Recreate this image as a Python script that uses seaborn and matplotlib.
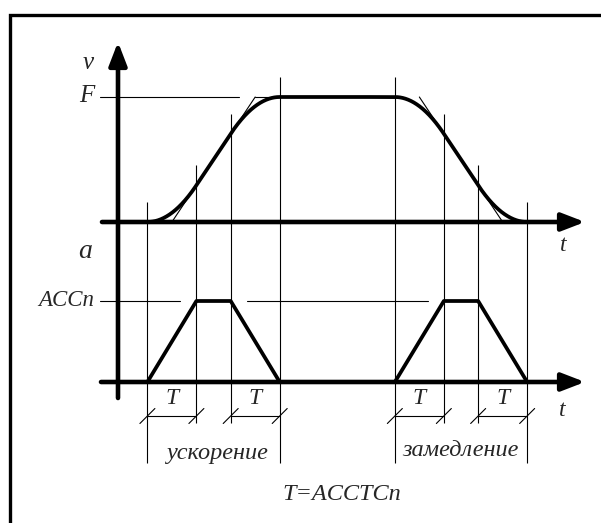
import numpy as np
import pandas as pd
import matplotlib
matplotlib.use("Agg")
import matplotlib.pyplot as plt
import seaborn as sns

# ---- motion profile (time measured in units of the jerk time T) ----
T_JERK = 1.0
ACC_N = 1.0
accel_times = [0.6, 1.6, 2.3, 3.3]      # ramp-up start, full ACCn, ramp-down start, end
decel_times = [5.65, 6.65, 7.35, 8.35]
accel_shape = [0.0, 1.0, 1.0, 0.0]      # |a| / ACCn at those instants
decel_shape = [0.0, -1.0, -1.0, 0.0]

phase_labels = ["ускорение", "замедление"]
period_label = "T"
formula_label = "T=ACCTCn"
v_label, a_label, t_label = "v", "a", "t"
f_label, acc_label = "F", "ACCn"

# ---- velocity = integral of the signed acceleration ----
knots_t = accel_times + decel_times
knots_a = [ACC_N * s for s in accel_shape + decel_shape]
t_grid = np.linspace(accel_times[0], decel_times[-1], 2000)
a_grid = np.interp(t_grid, knots_t, knots_a)
v_grid = np.concatenate([[0.0], np.cumsum(0.5 * (a_grid[1:] + a_grid[:-1]) * np.diff(t_grid))])
v_grid = np.clip(v_grid, 0, None)
F = v_grid.max()

def v_at(t):
    return float(np.interp(t, t_grid, v_grid))

# constant-acceleration ramp with the same mean acceleration
ramp_len = F / ACC_N
acc_mid = 0.5 * (accel_times[0] + accel_times[-1])
dec_mid = 0.5 * (decel_times[0] + decel_times[-1])
ramp = pd.DataFrame({
    "t": [acc_mid - ramp_len / 2, acc_mid + ramp_len / 2, dec_mid - ramp_len / 2, dec_mid + ramp_len / 2],
    "v": [0.0, F, F, 0.0],
})
velocity = pd.DataFrame({"t": t_grid, "v": v_grid})
accel = pd.DataFrame({"t": accel_times + decel_times,
                      "a": [ACC_N * abs(s) for s in accel_shape + decel_shape],
                      "phase": ["acc"] * 4 + ["dec"] * 4})

# ---- layout (pixels of the 601 x 523 canvas) ----
W, H = 601, 523
COL_T0, PX_PER_T = 118, 49.0
ROW_V0, ROW_F = 222, 97
ROW_A0, ROW_ACC = 382, 301
K_V = (ROW_V0 - ROW_F) / F
K_A = (ROW_A0 - ROW_ACC) / ACC_N

def t_of_col(c):
    return (c - COL_T0) / PX_PER_T

def v_of_row(r):
    return (ROW_V0 - r) / K_V

def a_of_row(r):
    return (ROW_A0 - r) / K_A

sns.set_theme(style="white")
plt.rcParams["font.family"] = ["Liberation Serif", "DejaVu Serif"]
plt.rcParams["font.style"] = "italic"

fig = plt.figure(figsize=(W / 100, H / 100), dpi=100)
fig.patch.set_facecolor("white")
ax_v = fig.add_axes([0, 0, 1, 1])
ax_a = fig.add_axes([0, 0, 1, 1])
for ax in (ax_v, ax_a):
    ax.set_xlim(t_of_col(0), t_of_col(W))
    ax.set_axis_off()
    ax.patch.set_alpha(0)
ax_v.set_ylim(v_of_row(H), v_of_row(0))
ax_a.set_ylim(a_of_row(H), a_of_row(0))

K = "black"
THICK, AXW, THIN = 2.7, 3.3, 0.8
arrow = dict(arrowstyle="-|>,head_length=0.7,head_width=0.27", color=K, lw=AXW,
             shrinkA=0, shrinkB=0, mutation_scale=20)

# frame (left and top edges as one polyline)
fig.add_artist(plt.Line2D([10 / W, 10 / W, 1], [0, 1 - 14.5 / H, 1 - 14.5 / H],
                          color=K, lw=2.4, solid_joinstyle="miter"))

# thin reference lines
gap = 16 / PX_PER_T
ax_v.plot([t_of_col(100), ramp["t"][1] - gap], [F, F], color=K, lw=THIN)
sns.lineplot(data=ramp.iloc[:2], x="t", y="v", ax=ax_v, color=K, lw=THIN, estimator=None, sort=False)
sns.lineplot(data=ramp.iloc[2:], x="t", y="v", ax=ax_v, color=K, lw=THIN, estimator=None, sort=False)
ax_v.plot([ramp["t"][1], acc_mid + ramp_len / 2 + 0.4], [F, F], color=K, lw=THIN)
ax_a.plot([t_of_col(100), accel_times[1] - gap], [ACC_N, ACC_N], color=K, lw=THIN)
ax_a.plot([accel_times[2] + gap, decel_times[1] - gap], [ACC_N, ACC_N], color=K, lw=THIN)

# vertical guides at each phase boundary
over = 20 / K_V
for times in (accel_times, decel_times):
    for i, t in enumerate(times):
        bottom_row = 463 if i in (0, 3) else 423
        ax_v.vlines(t, v_at(t) + over, v_of_row(bottom_row), color=K, lw=THIN)

# dimension lines for T
dim_a = a_of_row(416)
dx, dy = 7.5 / PX_PER_T, 7.5 / K_A
for times in (accel_times, decel_times):
    for t0, t1 in ((times[0], times[1]), (times[2], times[3])):
        ax_a.plot([t0, t1], [dim_a, dim_a], color=K, lw=THIN)
        for tt in (t0, t1):
            ax_a.plot([tt - dx, tt + dx], [dim_a - dy, dim_a + dy], color=K, lw=THIN)
        ax_a.text(0.5 * (t0 + t1), a_of_row(399), period_label, ha="center", va="center", fontsize=17)

# axes with arrows
ax_v.annotate("", xy=(0, v_of_row(42)), xytext=(0, v_of_row(398)), arrowprops=arrow)
ax_v.annotate("", xy=(t_of_col(585), 0), xytext=(t_of_col(102), 0), arrowprops=arrow)
ax_a.annotate("", xy=(t_of_col(585), 0), xytext=(t_of_col(101), 0), arrowprops=arrow)

# velocity curve and acceleration trapezoids
sns.lineplot(data=velocity, x="t", y="v", ax=ax_v, color=K, lw=THICK, estimator=None, sort=False)
for ph in ("acc", "dec"):
    sns.lineplot(data=accel[accel["phase"] == ph], x="t", y="a", ax=ax_a, color=K, lw=THICK,
                 estimator=None, sort=False)
for ax in (ax_v, ax_a):
    ax.set_xlabel("")
    ax.set_ylabel("")

# labels
def put(x, y, s, size, ha="center"):
    fig.text(x / W, 1 - y / H, s, ha=ha, va="center", fontsize=size)

put(88, 63, v_label, 18)
put(94, 96, f_label, 18, ha="right")
put(85, 251, a_label, 20)
put(94, 300, acc_label, 16.5, ha="right")
put(563, 245, t_label, 17)
put(562, 411, t_label, 17)
put(217, 454, phase_labels[0], 17.5)
put(461, 451, phase_labels[1], 17.5)
put(282, 494, formula_label, 17.5, ha="left")

fig.savefig("out.png", dpi=100, facecolor="white")
